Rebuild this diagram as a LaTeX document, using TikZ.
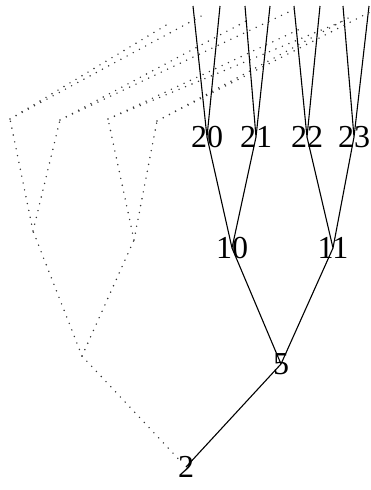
\documentclass[tikz,border=0pt]{standalone}
\usepackage{fontspec}
\setmainfont{Liberation Serif}
\usetikzlibrary{calc}
\tikzset{
    heapnode/.style={inner sep=0pt,font=\fontsize{32}{32}\selectfont},
    heapedge/.style={line width=1.1pt,draw=black},
    hiddenedge/.style={line width=1.6pt,draw=black!80,line cap=round,dash pattern=on 0pt off 7pt}
}

\begin{document}
\begin{tikzpicture}[x=1pt,y=-1pt]
          \useasboundingbox (0,0) rectangle (370,490);
          \clip (0,0) rectangle (370,490);
          % visible right subtree of 2
          \node[heapnode] (n2) at (186,467) {2};
          \node[heapnode] (n5) at (281,364) {5};
          \node[heapnode] (n10) at (232,248) {10};
          \node[heapnode] (n11) at (333,248) {11};
          \node[heapnode] (n20) at (207,137) {20};
          \node[heapnode] (n21) at (256,137) {21};
          \node[heapnode] (n22) at (307,137) {22};
          \node[heapnode] (n23) at (354,137) {23};
          \coordinate (c40) at (193,6);
          \coordinate (c41) at (220,6);
          \coordinate (c42) at (245,6);
          \coordinate (c43) at (270,6);
          \coordinate (c44) at (294,6);
          \coordinate (c45) at (320,6);
          \coordinate (c46) at (343,6);
          \coordinate (c47) at (369,6);
          \draw[heapedge] (n2.center) -- (n5.center);
          \draw[heapedge] (n5.center) -- (n10.center) (n5.center) -- (n11.center);
          \draw[heapedge] (n10.center) -- (n20.center) (n10.center) -- (n21.center);
          \draw[heapedge] (n11.center) -- (n22.center) (n11.center) -- (n23.center);
          \draw[heapedge] (n20.center) -- (c40) (n20.center) -- (c41);
          \draw[heapedge] (n21.center) -- (c42) (n21.center) -- (c43);
          \draw[heapedge] (n22.center) -- (c44) (n22.center) -- (c45);
          \draw[heapedge] (n23.center) -- (c46) (n23.center) -- (c47);
          % hidden left subtree, folded back
          \coordinate (h4) at (82,356);
          \coordinate (h8) at (33,231);
          \coordinate (h9) at (134,240);
          \coordinate (h16) at (10,119);
          \coordinate (h17) at (60,120);
          \coordinate (h18) at (108,119);
          \coordinate (h19) at (157,121);
          \coordinate (h32) at (168,24);
          \coordinate (h33) at (205,14);
          \coordinate (h34) at (250,19);
          \coordinate (h35) at (295,9);
          \coordinate (h36) at (300,29);
          \coordinate (h37) at (343,21);
          \coordinate (h38) at (352,16);
          \coordinate (h39) at (372,11);
          \draw[hiddenedge] (n2) -- (h4);
          \draw[hiddenedge] (h4) -- (h8) (h4) -- (h9);
          \draw[hiddenedge] (h8) -- (h16) (h8) -- (h17);
          \draw[hiddenedge] (h9) -- (h18) (h9) -- (h19);
          \foreach \P/\A/\B in {h16/h32/h33,h17/h34/h35,h18/h36/h37,h19/h38/h39}{
            \draw[hiddenedge] (\P) -- (\A) (\P) -- (\B);
          }
        \end{tikzpicture}
\end{document}
